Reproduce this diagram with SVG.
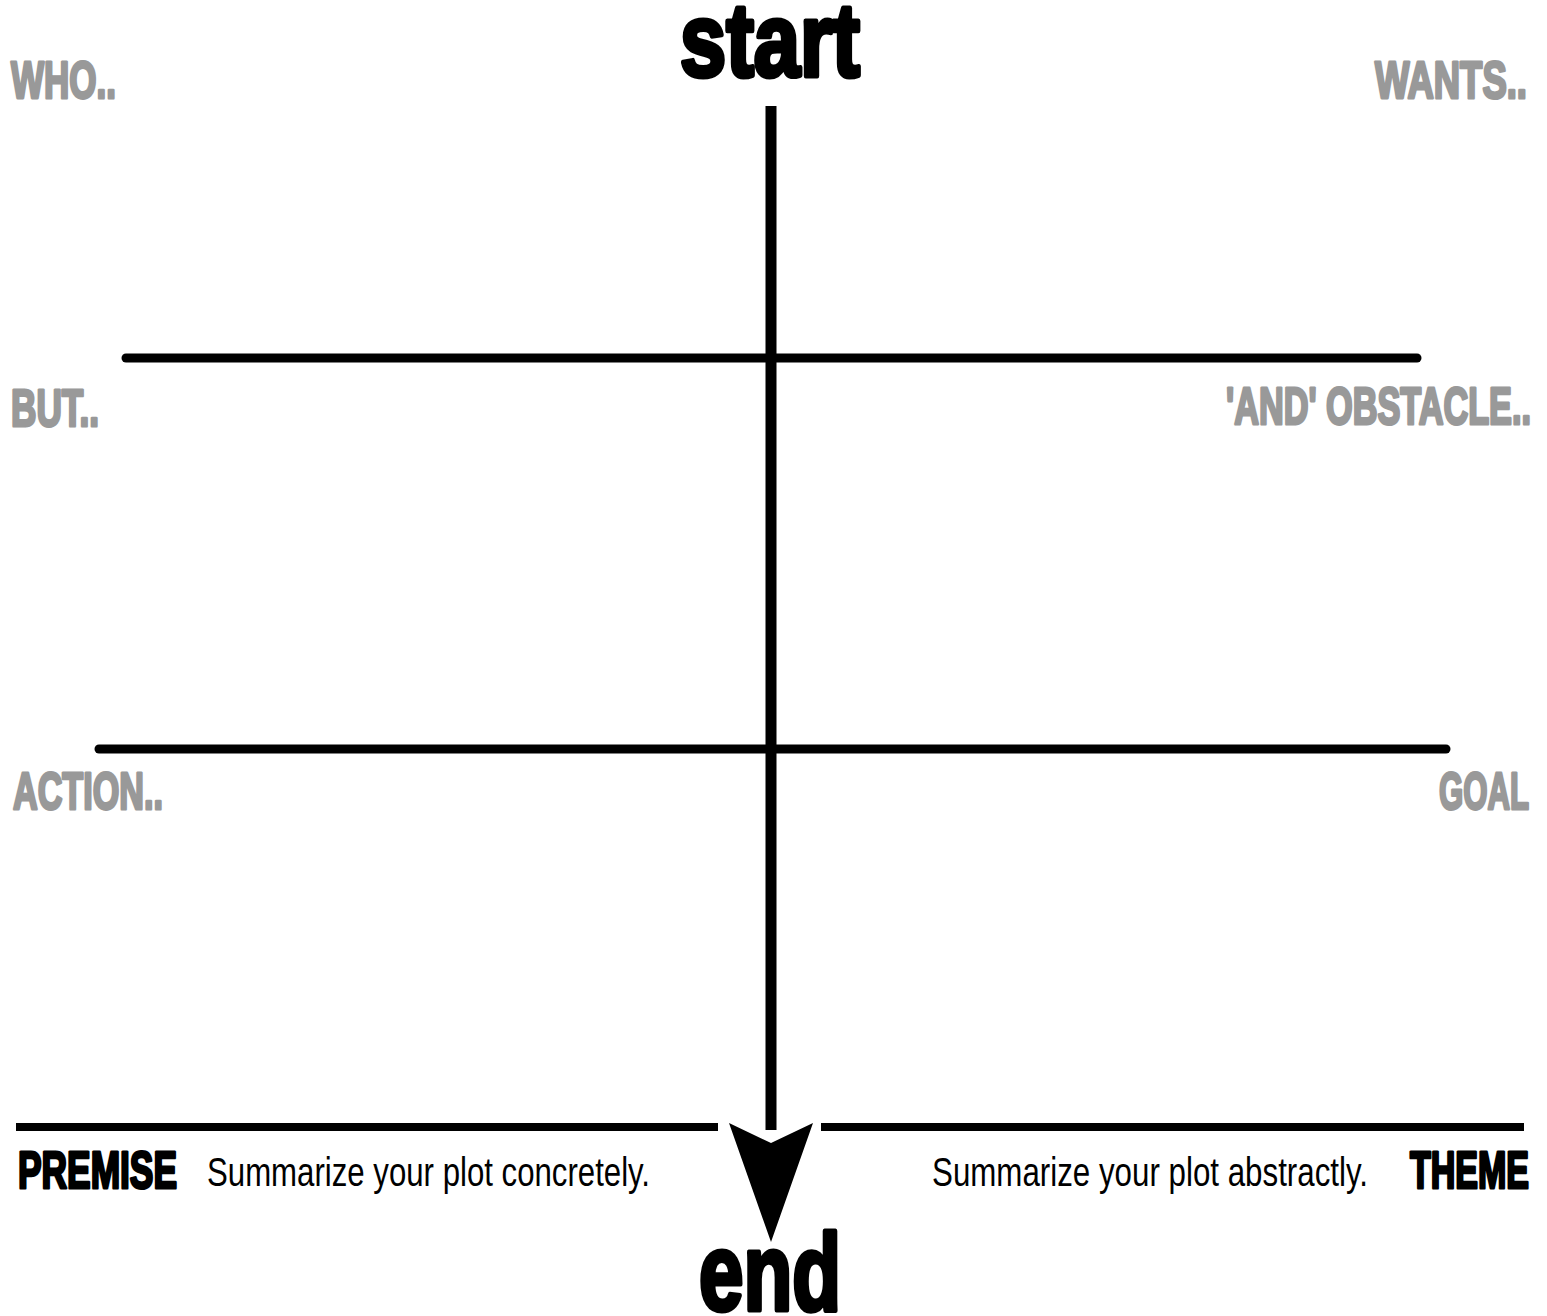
<svg xmlns="http://www.w3.org/2000/svg" width="1547" height="1316" viewBox="0 0 1547 1316">
<style>
.heavy{font-family:"Liberation Sans",Arial,sans-serif;font-weight:bold;stroke-linejoin:round}
.gray{fill:#999999;stroke:#999999;stroke-width:3;font-size:52px}
.black{fill:#000;stroke:#000;stroke-width:3}
.big{stroke-width:5}
.body{font-family:"Liberation Sans",Arial,sans-serif;font-size:40px;fill:#000}
.ln{stroke:#000;fill:none}
</style>
<rect width="1547" height="1316" fill="#fff"/>
<g id="connectors">
<line class="ln" x1="771" y1="106" x2="771" y2="1130" stroke-width="11"/>
<line class="ln" x1="126" y1="358" x2="1417" y2="358" stroke-width="9" stroke-linecap="round"/>
<line class="ln" x1="99" y1="749" x2="1446" y2="749" stroke-width="9" stroke-linecap="round"/>
<line class="ln" x1="16" y1="1127" x2="718" y2="1127" stroke-width="8"/>
<line class="ln" x1="821" y1="1127" x2="1524" y2="1127" stroke-width="8"/>
<polygon points="729,1123 771,1143 813,1123 771,1242" fill="#000"/>
</g>
<g id="start"><text class="heavy black big" x="680" y="76" font-size="104" textLength="180" lengthAdjust="spacingAndGlyphs">start</text></g>
<g id="end"><text class="heavy black big" x="699" y="1310" font-size="110" textLength="142" lengthAdjust="spacingAndGlyphs">end</text></g>
<g id="who"><text class="heavy gray" x="11" y="98" textLength="105" lengthAdjust="spacingAndGlyphs">WHO..</text></g>
<g id="wants"><text class="heavy gray" x="1375" y="98" textLength="152" lengthAdjust="spacingAndGlyphs">WANTS..</text></g>
<g id="but"><text class="heavy gray" x="11" y="426" textLength="88" lengthAdjust="spacingAndGlyphs">BUT..</text></g>
<g id="obstacle"><text class="heavy gray" x="1226" y="424" textLength="305" lengthAdjust="spacingAndGlyphs">'AND' OBSTACLE..</text></g>
<g id="action"><text class="heavy gray" x="13" y="809" textLength="150" lengthAdjust="spacingAndGlyphs">ACTION..</text></g>
<g id="goal"><text class="heavy gray" x="1439" y="809" textLength="90" lengthAdjust="spacingAndGlyphs">GOAL</text></g>
<g id="premise">
<text class="heavy black" x="18" y="1188" font-size="52" textLength="159" lengthAdjust="spacingAndGlyphs">PREMISE</text>
<text class="body" x="207" y="1186" textLength="443" lengthAdjust="spacingAndGlyphs">Summarize your plot concretely.</text>
</g>
<g id="theme">
<text class="body" x="932" y="1186" textLength="436" lengthAdjust="spacingAndGlyphs">Summarize your plot abstractly.</text>
<text class="heavy black" x="1410" y="1188" font-size="52" textLength="119" lengthAdjust="spacingAndGlyphs">THEME</text>
</g>
</svg>
